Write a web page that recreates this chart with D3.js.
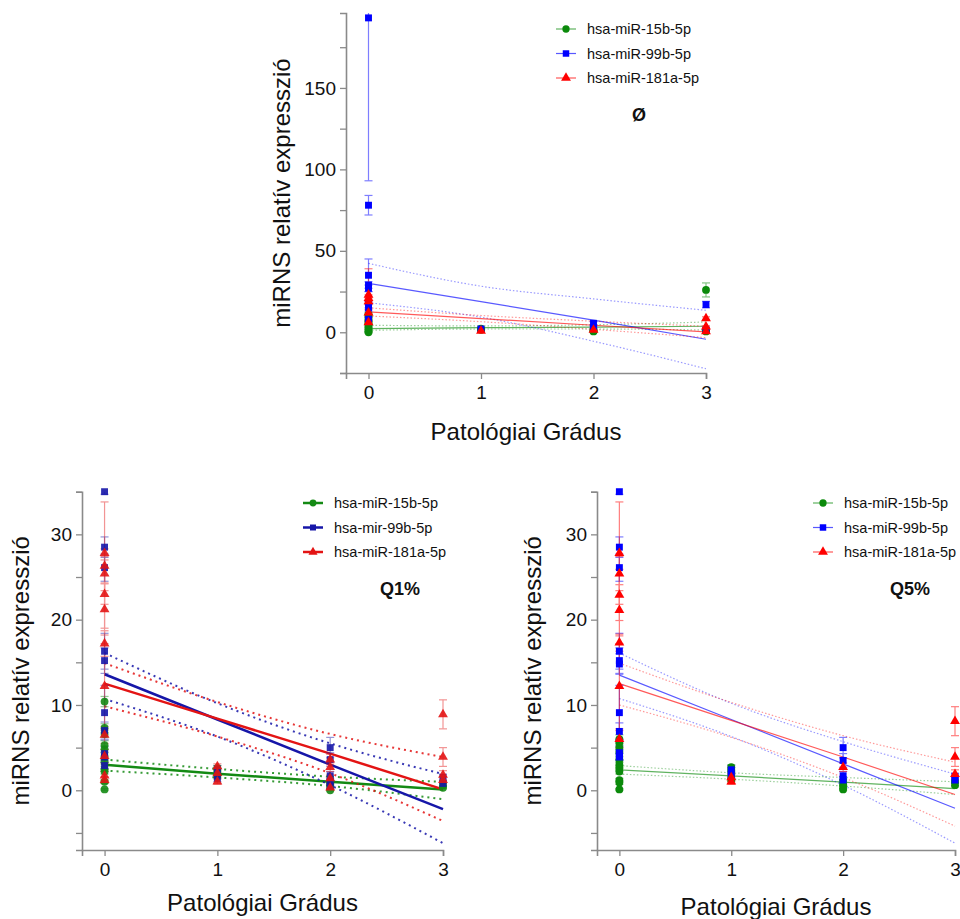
<!DOCTYPE html>
<html>
<head>
<meta charset="utf-8">
<script src="https://cdn.jsdelivr.net/npm/d3@7"></script>
<style>
  body { margin: 0; background: #fff; }
  svg { display: block; font-family: "Liberation Sans", Arial, sans-serif; }
</style>
</head>
<body>
<script>
// grades on the x axis, fit values below are read at these grades
const grades = [0, 1, 2, 3];
const seriesNames = ['hsa-miR-15b-5p', 'hsa-miR-99b-5p', 'hsa-miR-181a-5p'];
const seriesNamesQ1 = ['hsa-miR-15b-5p', 'hsa-mir-99b-5p', 'hsa-miR-181a-5p'];

// points: [grade, mean, sd]
const topGreenPts = [[0, 11, 1], [0, 9, 1], [0, 7, 1], [0, 5.5, 1], [0, 4, 0.8], [0, 2.5, 0.6], [0, 1, 0.5], [0, 0, 0.4],
  [1, 2.2, 0.8], [1, 1.5, 0.5], [2, 0.5, 0.5], [2, 1, 0.5], [3, 26, 4.3], [3, 0.5, 0.5], [3, 1, 0.5]];
const topBluePts = [[0, 193, 100], [0, 78, 6], [0, 35, 10], [0, 29, 2], [0, 27, 2], [0, 17, 2], [0, 15, 2], [0, 8, 1],
  [1, 2, 0.5], [2, 5.5, 1], [2, 3, 0.5], [3, 17, 2], [3, 1.5, 0.5]];
const topRedPts = [[0, 23, 16], [0, 21, 2], [0, 19, 2], [0, 12, 2], [0, 6, 1],
  [1, 0.8, 0.4], [2, 1.5, 0.5], [3, 8.5, 1], [3, 3.5, 0.5], [3, 0.5, 0.3]];

const q1GreenPts = [[0, 10.4, 0.6], [0, 7.3, 0.5], [0, 6.6, 0.4], [0, 5.3, 0.5], [0, 4.8, 0.4], [0, 4.0, 0.4], [0, 3.3, 0.3],
  [0, 2.5, 0.3], [0, 2.2, 0.3], [0, 1.0, 0.2], [0, 0.1, 0.1], [1, 2.6, 0.3], [1, 2.2, 0.3], [1, 1.7, 0.3],
  [2, 1.0, 0.2], [2, 0.5, 0.2], [2, 0.0, 0.1], [3, 0.3, 0.1], [3, 0.6, 0.2]];
const q1BluePts = [[0, 35, 0.3], [0, 28.5, 1.2], [0, 26.1, 1.6], [0, 16.3, 2.1], [0, 15.2, 1.5], [0, 9.1, 3.2], [0, 7.0, 1],
  [0, 4.3, 0.8], [0, 3.9, 0.6], [0, 2.9, 0.4], [1, 2.4, 0.5], [1, 1.4, 0.4],
  [2, 5.0, 1.2], [2, 3.6, 0.8], [2, 1.7, 0.5], [2, 1.0, 0.4], [2, 0.5, 0.3], [3, 1.5, 0.4], [3, 0.8, 0.3]];
const q1RedPts = [[0, 27.8, 6], [0, 26.3, 2], [0, 25.4, 2], [0, 23.0, 4], [0, 21.2, 3], [0, 17.2, 1.5], [0, 12.2, 5],
  [0, 6.5, 1], [0, 4.0, 0.8], [0, 1.7, 0.5], [0, 1.2, 0.4], [1, 2.8, 0.3], [1, 2.0, 0.5], [1, 1.0, 0.3],
  [2, 3.6, 0.6], [2, 2.7, 0.5], [2, 1.4, 0.4], [2, 0.3, 0.3], [3, 8.9, 1.7], [3, 3.9, 1.1], [3, 1.8, 0.5], [3, 1.2, 0.4]];

const q5GreenPts = [[0, 6.0, 0.5], [0, 5.6, 0.4], [0, 5.0, 0.4], [0, 4.4, 0.4], [0, 3.6, 0.3], [0, 3.0, 0.3], [0, 2.6, 0.3],
  [0, 2.2, 0.3], [0, 1.2, 0.2], [0, 0.9, 0.2], [0, 0.1, 0.1], [1, 2.7, 0.3], [1, 2.3, 0.3], [1, 1.6, 0.3], [1, 1.2, 0.2],
  [2, 1.1, 0.2], [2, 0.7, 0.2], [2, 0.4, 0.2], [2, 0.1, 0.1], [3, 1.0, 0.2], [3, 0.6, 0.2]];
const q5BluePts = [[0, 35, 0.3], [0, 28.5, 1.2], [0, 26.1, 1.6], [0, 16.3, 2.1], [0, 15.2, 1.5], [0, 14.8, 1.2], [0, 9.1, 3.2],
  [0, 6.9, 1], [0, 4.4, 0.8], [0, 4.1, 0.6], [0, 3.9, 0.4], [1, 2.4, 0.5], [1, 1.8, 0.4],
  [2, 5.0, 1.2], [2, 3.5, 0.8], [2, 1.7, 0.5], [2, 1.2, 0.4], [3, 1.6, 0.4], [3, 1.2, 0.3]];
const q5RedPts = [[0, 27.8, 6], [0, 25.4, 2], [0, 22.9, 3], [0, 21.1, 3], [0, 17.3, 1], [0, 12.2, 5], [0, 6.0, 1],
  [1, 1.0, 0.3], [1, 1.5, 0.4], [2, 2.7, 0.5], [3, 8.1, 1.7], [3, 3.9, 1.1], [3, 1.9, 0.5]];

// regression lines: [fit, upper CI, lower CI], values at grades 0..3
const topGreenFit = [[2.3, 2.8, 3.2, 3.7], [4.3, 3.9, 4.6, 6.3], [1.2, 2.0, 2.0, 1.4]];
const topBlueFit = [[30, 18.8, 7.5, -4.3], [42.3, 28.3, 20.5, 13.5], [18.1, 9.3, -5.5, -22.4]];
const topRedFit = [[12.5, 8.4, 4.3, 0.2], [15, 10.3, 6.8, 3.7], [10, 6.5, 1.8, -3.3]];

const q1GreenFit = [[3.0, 1.95, 1.0, 0.1], [3.6, 2.5, 1.6, 1.0], [2.3, 1.5, 0.5, -1.05]];
const q1BlueFit = [[13.6, 8.3, 3.0, -2.2], [16.1, 10.2, 5.5, 1.9], [10.7, 6.3, 0.6, -6.2]];
const q1RedFit = [[12.5, 8.4, 4.3, 0.1], [14.9, 10.35, 6.6, 3.9], [9.85, 6.3, 2.0, -3.6]];

const q5GreenFit = [[2.4, 1.7, 0.95, 0.2], [2.9, 2.05, 1.5, 1.0], [1.9, 1.3, 0.5, -0.5]];
const q5BlueFit = [[13.5, 8.3, 3.1, -2.1], [16.1, 10.2, 5.7, 1.9], [10.75, 6.3, 0.6, -6.2]];
const q5RedFit = [[12.5, 8.2, 3.9, -0.5], [14.9, 10.3, 6.4, 3.3], [10.0, 6.2, 1.5, -4.2]];

// y tick values
const topMajor = [0, 50, 100, 150];
const topMinor = [-25, 25, 75, 125, 175];
const lowMajor = [0, 10, 20, 30];
const lowMinor = [-5, 5, 15, 25, 35];

const svg = d3.select('body').append('svg')
    .attr('width', 960)
    .attr('height', 919);

const thinColors = ['#0b8a0b', '#0000ff', '#ff0000'];
const boldColors = ['#148a14', '#1616a8', '#e31414'];
const symbols = [d3.symbolCircle, d3.symbolSquare, d3.symbolTriangle];

function drawPanel(p) {
    const x = d3.scaleLinear().domain([-0.2, 3]).range([p.left, p.right]);
    const y = d3.scaleLinear().domain(p.yDomain).range([p.bottom, p.top]);
    const bold = p.bold;
    const colors = bold ? boldColors : thinColors;

    const clipId = 'clip-' + p.id;
    svg.append('clipPath').attr('id', clipId)
        .append('rect')
        .attr('x', p.left).attr('y', p.top)
        .attr('width', p.right - p.left + 8).attr('height', p.bottom - p.top);

    const g = svg.append('g').attr('clip-path', `url(#${clipId})`);
    const marks = svg.append('g');

    const line = d3.line().x((d, i) => x(grades[i])).y(d => y(d));
    const band = d3.line().x((d, i) => x(grades[i])).y(d => y(d)).curve(d3.curveMonotoneX);

    // regression lines and confidence bands
    p.fits.forEach((fit, s) => {
        [fit[1], fit[2]].forEach(ci => {
            g.append('path')
                .attr('d', band(ci))
                .attr('fill', 'none')
                .attr('stroke', colors[s])
                .attr('stroke-width', bold ? 2 : 1.2)
                .attr('stroke-dasharray', bold ? '2,4' : '1.5,2')
                .attr('opacity', bold ? 0.85 : 0.4);
        });
        g.append('path')
            .attr('d', line(fit[0]))
            .attr('fill', 'none')
            .attr('stroke', colors[s])
            .attr('stroke-width', bold ? 2.5 : 1.2)
            .attr('opacity', bold ? 1 : 0.65);
    });

    // error bars (clipped) then markers
    p.points.forEach((pts, s) => {
        const eb = g.append('g')
            .attr('stroke', colors[s])
            .attr('stroke-width', 1.2)
            .attr('opacity', bold ? 0.45 : 0.5);
        pts.forEach(d => {
            const cx = x(d[0]);
            eb.append('line').attr('x1', cx).attr('x2', cx)
                .attr('y1', y(d[1] - d[2])).attr('y2', y(d[1] + d[2]));
            [d[1] - d[2], d[1] + d[2]].forEach(v => {
                eb.append('line').attr('x1', cx - 4).attr('x2', cx + 4)
                    .attr('y1', y(v)).attr('y2', y(v));
            });
        });
    });
    p.points.forEach((pts, s) => {
        marks.append('g').selectAll('path')
            .data(pts)
            .enter()
            .append('path')
            .attr('d', d3.symbol().type(symbols[s]).size(s === 2 ? 42 : 48))
            .attr('transform', d => `translate(${x(d[0])},${y(d[1])})`)
            .attr('fill', colors[s])
            .attr('opacity', bold ? 0.9 : 1);
    });

    // axes
    const axisColor = '#8a8a8a';
    const yAxis = svg.append('g')
        .attr('transform', `translate(${p.left},0)`)
        .call(d3.axisLeft(y).tickValues(p.major).tickSize(6).tickPadding(4));
    svg.append('g')
        .attr('transform', `translate(${p.left},0)`)
        .call(d3.axisLeft(y).tickValues(p.minor).tickSize(6).tickFormat(''))
        .call(a => a.select('.domain').remove())
        .selectAll('line').attr('stroke', axisColor).attr('stroke-width', 1.3);

    const xAxis = svg.append('g')
        .attr('transform', `translate(0,${p.bottom})`)
        .call(d3.axisBottom(x).tickValues(grades).tickFormat(d3.format('d')).tickSize(6).tickPadding(7));

    [yAxis, xAxis].forEach(a => {
        a.select('.domain').attr('stroke', axisColor).attr('stroke-width', 1.6);
        a.selectAll('.tick line').attr('stroke', axisColor).attr('stroke-width', 1.3);
        a.selectAll('text')
            .style('font-family', '"Liberation Sans", Arial, sans-serif')
            .style('font-size', '19px')
            .attr('fill', '#111');
    });

    // axis titles
    svg.append('text')
        .attr('x', (p.left + p.right) / 2)
        .attr('y', p.xTitleY)
        .attr('text-anchor', 'middle')
        .style('font-size', '24px')
        .attr('fill', '#111')
        .text('Patológiai Grádus');
    svg.append('text')
        .attr('transform', `translate(${p.yTitleX},${(p.top + p.bottom) / 2}) rotate(-90)`)
        .attr('text-anchor', 'middle')
        .style('font-size', '24px')
        .attr('fill', '#111')
        .text('miRNS relatív expresszió');

    // legend
    p.names.forEach((name, s) => {
        const ly = p.legendY + s * 24.5;
        svg.append('line')
            .attr('x1', p.legendX - 10).attr('x2', p.legendX + 10)
            .attr('y1', ly).attr('y2', ly)
            .attr('stroke', colors[s])
            .attr('stroke-width', bold ? 2.5 : 1.2)
            .attr('opacity', bold ? 1 : 0.65);
        svg.append('path')
            .attr('d', d3.symbol().type(symbols[s]).size(bold ? 36 : 42))
            .attr('transform', `translate(${p.legendX},${ly})`)
            .attr('fill', colors[s]);
        svg.append('text')
            .attr('x', p.legendX + 21)
            .attr('y', ly + 5)
            .style('font-size', '14.5px')
            .attr('fill', '#111')
            .text(name);
    });

    svg.append('text')
        .attr('x', p.tagX)
        .attr('y', p.tagY)
        .attr('text-anchor', 'middle')
        .style('font-size', '18px')
        .style('font-weight', 'bold')
        .attr('fill', '#111')
        .text(p.tag);
}

drawPanel({
    id: 'top', left: 346, right: 706, top: 13, bottom: 373, yDomain: [-25, 196],
    major: topMajor, minor: topMinor, bold: false,
    points: [topGreenPts, topBluePts, topRedPts],
    fits: [topGreenFit, topBlueFit, topRedFit],
    names: seriesNames, legendX: 566, legendY: 29,
    tag: 'Ø', tagX: 639, tagY: 121,
    xTitleY: 440, yTitleX: 290
});

drawPanel({
    id: 'q1', left: 82, right: 443, top: 491.7, bottom: 850, yDomain: [-7, 35],
    major: lowMajor, minor: lowMinor, bold: true,
    points: [q1GreenPts, q1BluePts, q1RedPts],
    fits: [q1GreenFit, q1BlueFit, q1RedFit],
    names: seriesNamesQ1, legendX: 313, legendY: 503,
    tag: 'Q1%', tagX: 400, tagY: 595,
    xTitleY: 911, yTitleX: 29
});

drawPanel({
    id: 'q5', left: 597, right: 955, top: 491.7, bottom: 850, yDomain: [-7, 35],
    major: lowMajor, minor: lowMinor, bold: false,
    points: [q5GreenPts, q5BluePts, q5RedPts],
    fits: [q5GreenFit, q5BlueFit, q5RedFit],
    names: seriesNames, legendX: 823, legendY: 503,
    tag: 'Q5%', tagX: 910, tagY: 595,
    xTitleY: 915, yTitleX: 541
});
</script>
</body>
</html>
